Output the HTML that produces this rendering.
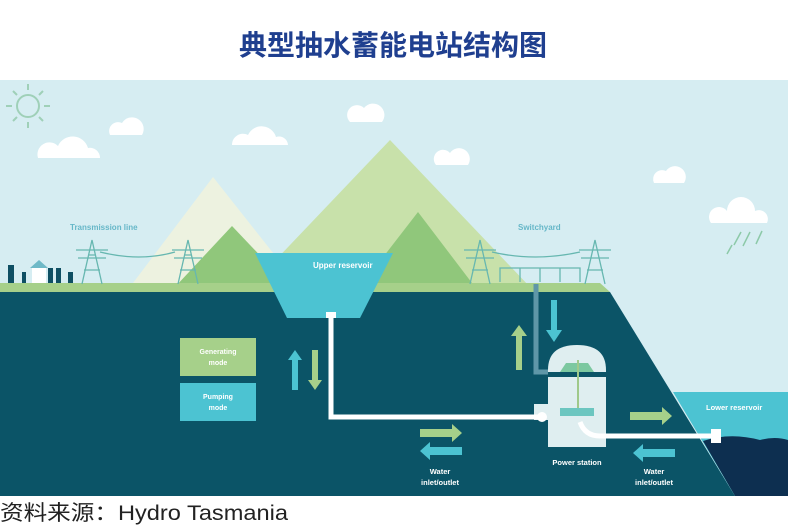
<!DOCTYPE html>
<html><head><meta charset="utf-8"><style>
html,body{margin:0;padding:0;background:#fff;width:788px;height:530px;overflow:hidden}
svg{display:block}
</style></head><body>
<svg width="788" height="530" viewBox="0 0 788 530" xmlns="http://www.w3.org/2000/svg" font-family="Liberation Sans, sans-serif">
<text x="393" y="55" text-anchor="middle" font-family="Liberation Sans, Noto Sans CJK SC, sans-serif" font-size="28" font-weight="bold" fill="#1f3f8f">典型抽水蓄能电站结构图</text>
<rect x="0" y="80" width="788" height="416" fill="#d6edf2"/>
<g stroke="#9fd0b8" stroke-width="2" fill="none"><circle cx="28" cy="106" r="11"/>
<line x1="28" y1="84" x2="28" y2="90"/><line x1="28" y1="122" x2="28" y2="128"/><line x1="6" y1="106" x2="12" y2="106"/><line x1="44" y1="106" x2="50" y2="106"/><line x1="13" y1="91" x2="17" y2="95"/><line x1="39" y1="117" x2="43" y2="121"/><line x1="13" y1="121" x2="17" y2="117"/><line x1="39" y1="95" x2="43" y2="91"/></g>
<g fill="#fff"><path d="M38 158 a12 12 0 0 1 20 -12 a16 16 0 0 1 30 2 a10 10 0 0 1 12 10 z"/>
<path d="M110 135 a9 9 0 0 1 12 -12 a10 10 0 0 1 20 12 z"/>
<path d="M232 145 a11 11 0 0 1 16 -10 a15 15 0 0 1 28 2 a9 9 0 0 1 12 8 z"/>
<path d="M350 122 a9 9 0 0 1 14 -14 a10 10 0 0 1 18 14 z"/>
<path d="M436 165 a9 9 0 0 1 14 -12 a10 10 0 0 1 18 12 z"/>
<path d="M654 183 a9 9 0 0 1 12 -12 a9 9 0 0 1 18 12 z"/>
<path d="M711 223 a10 10 0 0 1 16 -12 a13 13 0 0 1 28 0 a9 9 0 0 1 12 12 z"/></g>
<g stroke="#8cc9a8" stroke-width="1.5"><line x1="732" y1="245" x2="727" y2="254"/><line x1="741" y1="232" x2="734" y2="245"/><line x1="750" y1="232" x2="743" y2="246"/><line x1="762" y1="231" x2="756" y2="244"/></g>
<path d="M130 287 L213 177 L300 287 Z" fill="#edf2e0"/>
<path d="M250 287 L390 140 L530 287 Z" fill="#c8e1aa"/>
<path d="M175 287 L232 226 L290 287 Z" fill="#90c77b"/>
<path d="M360 287 L418 212 L475 287 Z" fill="#90c77b"/>
<path d="M0 283 L600 283 L610 292 L0 292 Z" fill="#a6d08a"/>
<path d="M0 292 L610 292 L735 496 L0 496 Z" fill="#0b5467"/>
<path d="M255 253 L393 253 L360 318 L287 318 Z" fill="#4cc3d2"/>
<text x="313" y="268" font-size="8" font-weight="bold" fill="#fff">Upper reservoir</text>
<path d="M673 392 L788 392 L788 496 L735 496 Z" fill="#4cc3d2"/>
<path d="M703 441 Q730 432 760 440 Q775 436 788 440 L788 496 L735 496 Z" fill="#0d2f50"/>
<text x="706" y="410" font-size="7.5" font-weight="bold" fill="#fff">Lower reservoir</text>
<g stroke="#66b7b0" stroke-width="1.3" fill="none">
<path d="M82 284 L92 240 L102 284 M84 270 L100 270 M88 255 L96 255 M76 250 L108 250 M78 258 L106 258"/>
<path d="M178 284 L188 240 L198 284 M180 270 L196 270 M184 255 L192 255 M172 250 L204 250 M174 258 L202 258"/>
<path d="M100 252 Q140 262 175 252"/>
<path d="M470 284 L480 240 L490 284 M472 270 L488 270 M464 250 L496 250 M466 258 L494 258"/>
<path d="M585 284 L595 240 L605 284 M587 270 L603 270 M579 250 L611 250 M581 258 L609 258"/>
<path d="M492 252 Q535 262 580 252"/>
<path d="M500 282 L500 268 L580 268 L580 282 M520 268 L520 282 M540 268 L540 282 M560 268 L560 282"/></g>
<text x="70" y="230" font-size="8" font-weight="bold" fill="#66b7c8">Transmission line</text>
<text x="518" y="230" font-size="8" font-weight="bold" fill="#66b7c8">Switchyard</text>
<g fill="#0e4f63"><rect x="8" y="265" width="6" height="18"/><rect x="22" y="272" width="4" height="11"/><rect x="48" y="268" width="5" height="15"/><rect x="56" y="268" width="5" height="15"/><rect x="68" y="272" width="5" height="11"/></g>
<rect x="32" y="268" width="14" height="15" fill="#fff"/>
<path d="M30 268 L39 260 L48 268 Z" fill="#6fb9c7"/>
<path d="M536 284 L536 372 L550 372" stroke="#5f97a8" stroke-width="5" fill="none"/>
<path d="M548 375 L548 370 Q548 345 577 345 Q606 345 606 370 L606 447 L548 447 Z" fill="#dfeef0"/>
<rect x="548" y="372" width="58" height="5" fill="#0b5467"/>
<rect x="534" y="404" width="20" height="16" fill="#dfeef0"/>
<path d="M560 372 L566 363 L588 363 L594 372 Z" fill="#7cc8a0"/>
<rect x="577" y="360" width="2" height="55" fill="#9fc98a"/>
<rect x="560" y="408" width="34" height="8" fill="#6cc6c0"/>
<text x="577" y="465" font-size="7.5" font-weight="bold" fill="#fff" text-anchor="middle">Power station</text>
<path d="M331 316 L331 417 L545 417" stroke="#fff" stroke-width="5" fill="none"/>
<rect x="326" y="312" width="10" height="6" fill="#fff"/>
<circle cx="542" cy="417" r="5" fill="#fff"/>
<path d="M580 422 Q585 436 600 436 L715 436" stroke="#fff" stroke-width="5" fill="none"/>
<rect x="711" y="429" width="10" height="14" fill="#fff"/>
<g fill="#a6d08a"><path d="M312 390 L318 390 L318 360 L322 360 L315 350 L308 360 L312 360 Z" transform="rotate(180 315 370)"/>
<path d="M516 370 L522 370 L522 336 L527 336 L519 325 L511 336 L516 336 Z"/>
<path d="M420 429 L452 429 L452 424 L462 433 L452 442 L452 437 L420 437 Z"/>
<path d="M630 412 L662 412 L662 407 L672 416 L662 425 L662 420 L630 420 Z"/></g>
<g fill="#4cc3d2"><path d="M292 390 L298 390 L298 360 L302 360 L295 350 L288 360 L292 360 Z"/>
<path d="M551 300 L557 300 L557 330 L562 330 L554 342 L546 330 L551 330 Z"/>
<path d="M462 447 L430 447 L430 442 L420 451 L430 460 L430 455 L462 455 Z"/>
<path d="M675 449 L643 449 L643 444 L633 453 L643 462 L643 457 L675 457 Z"/></g>
<rect x="180" y="338" width="76" height="38" fill="#a6d08a"/>
<text x="218" y="354" font-size="7" font-weight="bold" fill="#fff" text-anchor="middle">Generating</text>
<text x="218" y="365" font-size="7" font-weight="bold" fill="#fff" text-anchor="middle">mode</text>
<rect x="180" y="383" width="76" height="38" fill="#4cc3d2"/>
<text x="218" y="399" font-size="7" font-weight="bold" fill="#fff" text-anchor="middle">Pumping</text>
<text x="218" y="410" font-size="7" font-weight="bold" fill="#fff" text-anchor="middle">mode</text>
<g font-size="7.5" font-weight="bold" fill="#fff" text-anchor="middle">
<text x="440" y="474">Water</text><text x="440" y="485">inlet/outlet</text>
<text x="654" y="474">Water</text><text x="654" y="485">inlet/outlet</text></g>
<text x="0" y="520" font-family="Liberation Sans, Noto Sans CJK SC, sans-serif" font-size="21" fill="#222" textLength="288" lengthAdjust="spacingAndGlyphs">资料来源：Hydro Tasmania</text>
</svg>
</body></html>
